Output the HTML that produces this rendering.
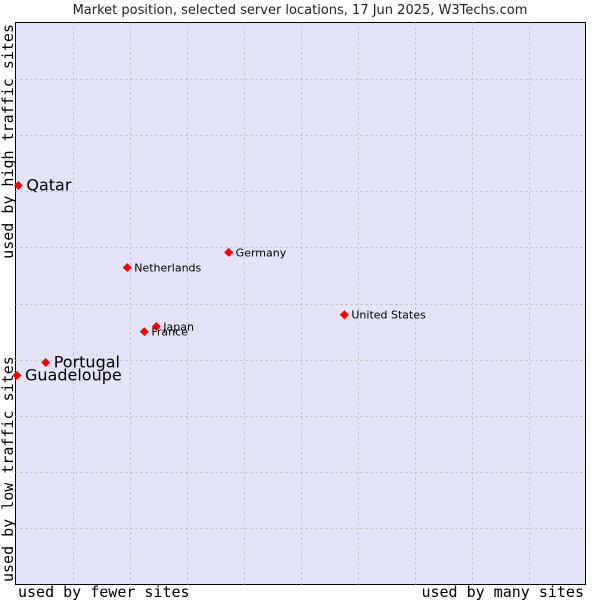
<!DOCTYPE html>
<html><head><meta charset="utf-8"><style>
body{margin:0;background:#fff;width:600px;height:600px;overflow:hidden}
svg{display:block}
</style></head><body>
<svg id="chart" width="600" height="600" xmlns="http://www.w3.org/2000/svg">
<text x="300" y="14" text-anchor="middle" font-family="DejaVu Sans, sans-serif" font-size="13" fill="#222">Market position, selected server locations, 17 Jun 2025, W3Techs.com</text>
<rect x="15.5" y="22.5" width="570" height="562" fill="#e3e4f8" stroke="#000" stroke-width="1"/>
<g id="grid"></g>
<g id="marks"></g>
<text x="18" y="597" font-family="DejaVu Sans Mono, Liberation Mono, monospace" font-size="15" fill="#000">used by fewer sites</text>
<text x="584" y="597" text-anchor="end" font-family="DejaVu Sans Mono, Liberation Mono, monospace" font-size="15" fill="#000">used by many sites</text>
<text transform="translate(13,24) rotate(-90)" text-anchor="end" font-family="DejaVu Sans Mono, Liberation Mono, monospace" font-size="15" fill="#000">used by high traffic sites</text>
<text transform="translate(13,582) rotate(-90)" font-family="DejaVu Sans Mono, Liberation Mono, monospace" font-size="15" fill="#000">used by low traffic sites</text>
</svg>
<script>
const countries = ["Qatar","Portugal","Guadeloupe","Netherlands","Germany","Japan","France","United States"];
const usageValues = [0.5,5.3,0.2,19.6,37.4,24.7,22.6,57.7];
const trafficValues = [71,39.5,37.2,56.4,59.1,45.9,45.0,48.0];
const highlighted = [true,true,true,false,false,false,false,false];
const NS="http://www.w3.org/2000/svg";
const X0=15.5,X1=585.5,Y0=584.5,Y1=22.5;
function xs(v){return X0+v/100*(X1-X0);}
function ys(v){return Y0-v/100*(Y0-Y1);}
const grid=document.getElementById('grid');
for(let i=1;i<10;i++){
  const v=document.createElementNS(NS,'line');
  
  
  v.setAttribute('x1',Math.round(xs(i*10))+0.5);v.setAttribute('x2',Math.round(xs(i*10))+0.5);
  v.setAttribute('y1',Y1);v.setAttribute('y2',Y0);
  v.setAttribute('stroke','#bbb');v.setAttribute('stroke-dasharray','2,3');
  grid.appendChild(v);
  const h=document.createElementNS(NS,'line');
  
  
  h.setAttribute('y1',Math.round(ys(i*10))+0.5);h.setAttribute('y2',Math.round(ys(i*10))+0.5);
  h.setAttribute('x1',X0);h.setAttribute('x2',X1);
  h.setAttribute('stroke','#bbb');h.setAttribute('stroke-dasharray','2,3');
  grid.appendChild(h);
}
const marks=document.getElementById('marks');
countries.forEach((c,i)=>{
  const x=Math.max(xs(usageValues[i]),17),y=ys(trafficValues[i]);
  const p=document.createElementNS(NS,'polygon');
  
  
  p.setAttribute('points',`${x},${y-4.5} ${x+4.5},${y} ${x},${y+4.5} ${x-4.5},${y}`);
  p.setAttribute('fill','#ff0000');
  marks.appendChild(p);
  const t=document.createElementNS(NS,'text');
  
  
  const big=highlighted[i];
  t.setAttribute('x',x+(big?8:7));
  t.setAttribute('y',y+(big?5:4));
  t.setAttribute('font-family','DejaVu Sans, sans-serif');
  t.setAttribute('font-size',big?16:11);
  t.setAttribute('fill','#000');
  t.textContent=c;
  marks.appendChild(t);
});
</script>
</body></html>
